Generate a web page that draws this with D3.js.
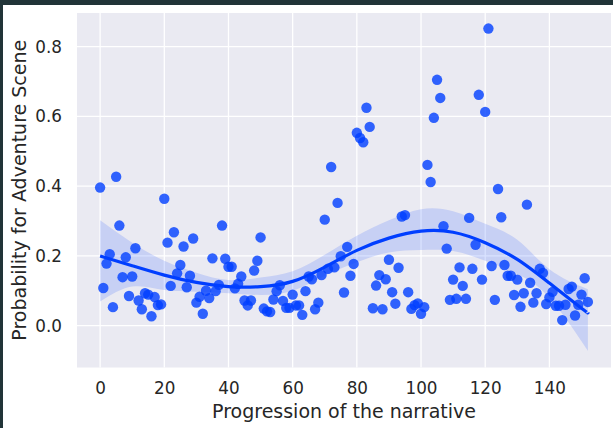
<!DOCTYPE html>
<html>
<head>
<meta charset="utf-8">
<script src="https://cdn.jsdelivr.net/npm/d3@7"></script>
<style>
  html, body { margin: 0; padding: 0; background: #fff; }
  svg { display: block; }
  text { font-family: "DejaVu Sans", sans-serif; fill: #262626; }
</style>
</head>
<body>
<div id="chart"></div>
<script>
// probability of an adventure scene, one value per scene (x = scene index)
const probability = [
  0.396, 0.108, 0.178, 0.205, 0.053, 0.427, 0.287, 0.139, 0.196, 0.085,
  0.141, 0.222, 0.072, 0.047, 0.093, 0.089, 0.027, 0.082, 0.059, 0.061,
  0.364, 0.238, 0.114, 0.268, 0.150, 0.174, 0.227, 0.110, 0.143, 0.250,
  0.066, 0.083, 0.034, 0.100, 0.079, 0.193, 0.099, 0.117, 0.287, 0.192,
  0.169, 0.169, 0.107, 0.120, 0.141, 0.072, 0.058, 0.072, 0.158, 0.186,
  0.253, 0.049, 0.041, 0.039, 0.075, 0.099, 0.116, 0.071, 0.051, 0.051,
  0.089, 0.058, 0.058, 0.031, 0.099, 0.141, 0.133, 0.047, 0.066, 0.145,
  0.304, 0.163, 0.455, 0.167, 0.352, 0.199, 0.095, 0.226, 0.143, 0.177,
  0.553, 0.538, 0.526, 0.625, 0.570, 0.050, 0.115, 0.145, 0.047, 0.133,
  0.189, 0.096, 0.063, 0.166, 0.313, 0.317, 0.096, 0.048, 0.059, 0.064,
  0.034, 0.053, 0.461, 0.412, 0.596, 0.705, 0.653, 0.285, 0.221, 0.074,
  0.132, 0.077, 0.167, 0.114, 0.077, 0.309, 0.163, 0.232, 0.662, 0.132,
  0.613, 0.852, 0.171, 0.074, 0.392, 0.311, 0.174, 0.143, 0.143, 0.088,
  0.132, 0.054, 0.093, 0.347, 0.123, 0.066, 0.093, 0.163, 0.151, 0.062,
  0.081, 0.097, 0.057, 0.057, 0.016, 0.060, 0.105, 0.112, 0.029, 0.060,
  0.089, 0.136, 0.068
];
const scenes = d3.range(probability.length);

// regression line and its 95% band
const fitX  = [0,     10,    20,    30,    40,    50,    60,    70,    80,    90,    100,   110,   120,   130,   140,   150,    152];
const fitY  = [0.200, 0.172, 0.145, 0.124, 0.112, 0.112, 0.127, 0.168, 0.216, 0.251, 0.271, 0.268, 0.238, 0.190, 0.122, 0.050,  0.037];
const fitLo = [0.069, 0.112, 0.102, 0.097, 0.093, 0.088, 0.100, 0.143, 0.182, 0.210, 0.217, 0.214, 0.186, 0.148, 0.080, -0.045, -0.072];
const fitHi = [0.302, 0.238, 0.186, 0.152, 0.131, 0.138, 0.156, 0.203, 0.258, 0.302, 0.334, 0.328, 0.292, 0.246, 0.162, 0.112,  0.104];

const xTicks = [0, 20, 40, 60, 80, 100, 120, 140];
const yTicks = [0.0, 0.2, 0.4, 0.6, 0.8];

const W = 613, H = 428;
const plot = { left: 77, top: 13, right: 611, bottom: 367.5 };
const color = "rgb(0, 62, 255)";

const svg = d3.select("#chart").append("svg")
              .attr("width", W)
              .attr("height", H);

// dark frame on the top and left edges
svg.append("rect").attr("width", W).attr("height", H).attr("fill", "#213438");
svg.append("rect").attr("x", 3).attr("y", 5).attr("width", W - 3).attr("height", H - 5).attr("fill", "#fff");

const x = d3.scaleLinear().domain([-7.2, 159.2]).range([plot.left, plot.right]);
const y = d3.scaleLinear().domain([-0.12, 0.8966]).range([plot.bottom, plot.top]);

svg.append("rect")
   .attr("x", plot.left).attr("y", plot.top)
   .attr("width", plot.right - plot.left)
   .attr("height", plot.bottom - plot.top)
   .attr("fill", "#eaeaf2");

// grid
svg.append("g")
   .selectAll("line")
   .data(xTicks)
   .enter().append("line")
   .attr("x1", d => x(d)).attr("x2", d => x(d))
   .attr("y1", plot.top).attr("y2", plot.bottom)
   .attr("stroke", "#fff").attr("stroke-width", 1.3);

svg.append("g")
   .selectAll("line")
   .data(yTicks)
   .enter().append("line")
   .attr("x1", plot.left).attr("x2", plot.right)
   .attr("y1", d => y(d)).attr("y2", d => y(d))
   .attr("stroke", "#fff").attr("stroke-width", 1.3);

const fit = fitX.map((d, i) => ({ x: d, y: fitY[i], lo: fitLo[i], hi: fitHi[i] }));

svg.append("path")
   .datum(fit)
   .attr("fill", color)
   .attr("fill-opacity", 0.15)
   .attr("d", d3.area().curve(d3.curveNatural).x(d => x(d.x)).y0(d => y(d.lo)).y1(d => y(d.hi)));

svg.append("g")
   .selectAll("circle")
   .data(scenes)
   .enter().append("circle")
   .attr("cx", d => x(d))
   .attr("cy", d => y(probability[d]))
   .attr("r", 5.2)
   .attr("fill", color)
   .attr("fill-opacity", 0.8);

svg.append("path")
   .datum(fit)
   .attr("fill", "none")
   .attr("stroke", color)
   .attr("stroke-width", 3.2)
   .attr("d", d3.line().curve(d3.curveNatural).x(d => x(d.x)).y(d => y(d.y)));

// axes (no tick marks, seaborn darkgrid)
const xAxis = svg.append("g")
   .attr("transform", `translate(0,${plot.bottom})`)
   .call(d3.axisBottom(x).tickValues(xTicks).tickSize(0).tickPadding(15).tickFormat(d3.format("d")));
xAxis.select(".domain").remove();
xAxis.selectAll("text").attr("font-size", "16.8px").attr("fill", "#262626");

const yAxis = svg.append("g")
   .attr("transform", `translate(${plot.left},0)`)
   .call(d3.axisLeft(y).tickValues(yTicks).tickSize(0).tickPadding(15).tickFormat(d3.format(".1f")));
yAxis.select(".domain").remove();
yAxis.selectAll("text").attr("font-size", "16.8px").attr("fill", "#262626");

svg.append("text")
   .attr("x", (plot.left + plot.right) / 2)
   .attr("y", 418)
   .attr("text-anchor", "middle")
   .attr("font-size", "19px")
   .text("Progression of the narrative");

svg.append("text")
   .attr("transform", `translate(26,${(plot.top + plot.bottom) / 2}) rotate(-90)`)
   .attr("text-anchor", "middle")
   .attr("font-size", "19px")
   .text("Probability for Adventure Scene");
</script>
</body>
</html>
